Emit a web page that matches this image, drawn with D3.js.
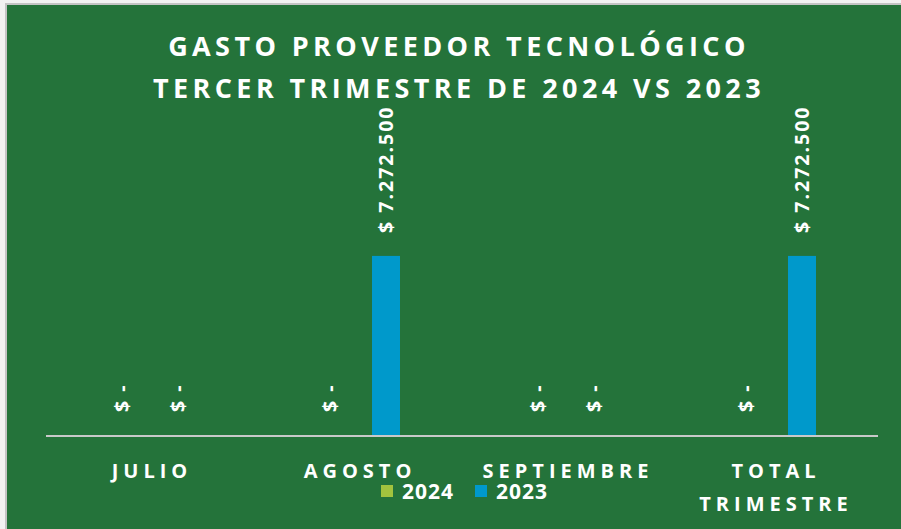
<!DOCTYPE html>
<html>
<head>
<meta charset="utf-8">
<script src="https://cdn.jsdelivr.net/npm/d3@7"></script>
<style>
  html, body { margin: 0; padding: 0; background: #f2f2f2; }
  svg { display: block; }
  text { font-family: "Open Sans", sans-serif; font-weight: bold; fill: #ffffff; }
</style>
</head>
<body>
<div id="chart"></div>
<script>
// data
var categories = ["JULIO", "AGOSTO", "SEPTIEMBRE", "TOTAL TRIMESTRE"];
var series = ["2024", "2023"];
var values2024 = [0, 0, 0, 0];
var values2023 = [0, 7272500, 0, 7272500];
var titleLines = ["GASTO PROVEEDOR TECNOLÓGICO", "TERCER TRIMESTRE DE 2024 VS 2023"];
var colors = { "2024": "#a2c33e", "2023": "#0099cb" };

var width = 901, height = 529;
var margin = { top: 238, right: 23, bottom: 94, left: 46 };

var svg = d3.select("#chart")
    .append("svg")
    .attr("width", width)
    .attr("height", height);

// panel background with the thin grey edge
svg.append("rect")
    .attr("x", 5).attr("y", 3)
    .attr("width", width).attr("height", height)
    .attr("fill", "#c4c4c4");
svg.append("rect")
    .attr("x", 7).attr("y", 5)
    .attr("width", width).attr("height", height)
    .attr("fill", "#24733a");

// title
svg.selectAll(".title")
    .data(titleLines)
    .enter()
    .append("text")
    .attr("class", "title")
    .attr("x", 459)
    .attr("y", function (d, i) { return 56 + i * 42; })
    .attr("text-anchor", "middle")
    .style("font-size", "27px")
    .style("letter-spacing", "4.4px")
    .text(function (d) { return d; });

var x0 = d3.scaleBand()
    .domain(categories)
    .range([margin.left, width - margin.right]);

var x1 = d3.scaleBand()
    .domain(series)
    .range([x0.bandwidth() / 2 - 56, x0.bandwidth() / 2 + 56])
    .paddingInner(0.5)
    .paddingOuter(0.25);

var y = d3.scaleLinear()
    .domain([0, 8000000])
    .range([height - margin.bottom, margin.top]);

var locale = d3.formatLocale({ decimal: ",", thousands: ".", grouping: [3], currency: ["$", ""] });
var fmt = locale.format(",.0f");
function label(v) {
    return v == 0 ? "$ -" : "$ " + fmt(v);
}

var rows = [];
for (var i = 0; i < categories.length; i++) {
    rows.push({ cat: categories[i], key: "2024", value: values2024[i] });
    rows.push({ cat: categories[i], key: "2023", value: values2023[i] });
}

// bars
svg.selectAll(".bar")
    .data(rows)
    .enter()
    .append("rect")
    .attr("class", "bar")
    .attr("x", function (d) { return x0(d.cat) + x1(d.key); })
    .attr("y", function (d) { return y(d.value); })
    .attr("width", x1.bandwidth())
    .attr("height", function (d) { return y(0) - y(d.value); })
    .attr("fill", function (d) { return colors[d.key]; });

// value labels (rotated)
svg.selectAll(".val")
    .data(rows)
    .enter()
    .append("text")
    .attr("class", "val")
    .attr("transform", function (d) {
        var cx = x0(d.cat) + x1(d.key) + x1.bandwidth() / 2;
        return "translate(" + cx + "," + (y(d.value) - 23) + ") rotate(-90)";
    })
    .attr("dy", "0.36em")
    .style("font-size", "19.5px")
    .style("letter-spacing", "2px")
    .text(function (d) { return label(d.value); });

// baseline
svg.append("line")
    .attr("x1", margin.left).attr("x2", width - margin.right)
    .attr("y1", y(0) + 1).attr("y2", y(0) + 1)
    .attr("stroke", "#c9c9c9")
    .attr("stroke-width", 2);

// category labels
var cat = svg.selectAll(".cat")
    .data(categories)
    .enter()
    .append("text")
    .attr("class", "cat")
    .attr("text-anchor", "middle")
    .attr("x", function (d) { return x0(d) + x0.bandwidth() / 2 + 2; })
    .attr("y", 478)
    .style("font-size", "20px")
    .style("letter-spacing", "5px");

cat.selectAll("tspan")
    .data(function (d) { return d.split(" "); })
    .enter()
    .append("tspan")
    .attr("x", function () { var p = this.parentNode; return p.getAttribute("x"); })
    .attr("dy", function (d, i) { return i == 0 ? 0 : 33; })
    .text(function (d) { return d; });

// legend
var legend = svg.selectAll(".legend")
    .data(series)
    .enter()
    .append("g")
    .attr("class", "legend")
    .attr("transform", function (d, i) { return "translate(" + (381 + i * 94) + ",485)"; });

legend.append("rect")
    .attr("width", 12).attr("height", 12)
    .attr("fill", function (d) { return colors[d]; });

legend.append("text")
    .attr("x", 21)
    .attr("y", 14)
    .style("font-size", "21px")
    .style("letter-spacing", "1px")
    .text(function (d) { return d; });
</script>
</body>
</html>
